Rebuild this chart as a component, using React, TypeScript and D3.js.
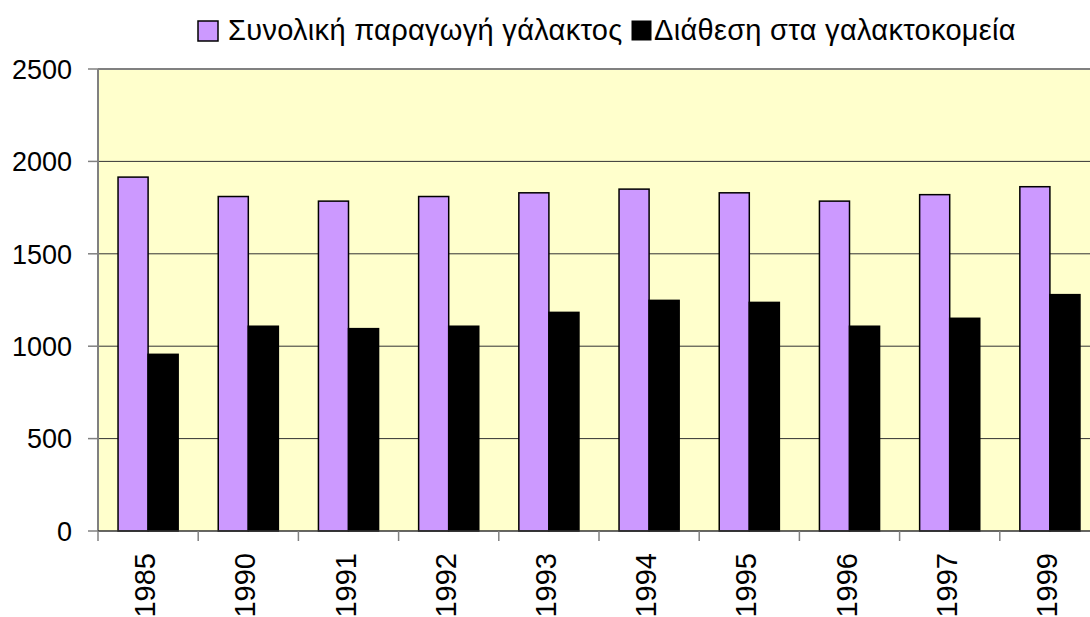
import React from 'react'
import * as d3 from 'd3'

// milk production (thousand tonnes)
const years = ['1985', '1990', '1991', '1992', '1993', '1994', '1995', '1996', '1997', '1999']
const totalProduction = [1915, 1810, 1785, 1810, 1830, 1850, 1830, 1785, 1820, 1863]
const toDairies = [956, 1108, 1095, 1108, 1183, 1248, 1237, 1108, 1151, 1279]
const seriesNames = ['Συνολική παραγωγή γάλακτος', 'Διάθεση στα γαλακτοκομεία']
const seriesColors = ['#CC99FF', '#000000']
const yTicks = [0, 500, 1000, 1500, 2000, 2500]

const W = 1090, H = 617
const left = 98, top = 69, plotW = 1002, plotH = 462
const font = 'Liberation Sans, Arial, sans-serif'

export default function App() {
  const x = d3.scaleBand<string>()
    .domain(years)
    .range([left, left + plotW])
    .paddingInner(0.4)
    .paddingOuter(0.2)

  const xInner = d3.scaleBand<number>()
    .domain([0, 1])
    .range([0, x.bandwidth()])

  const y = d3.scaleLinear()
    .domain([0, 2500])
    .range([top + plotH, top])

  const gap = (x.step() - x.bandwidth()) / 2
  const data = [totalProduction, toDairies]

  return (
    <div style={{ position: 'absolute', left: 0, top: 0 }}>
      <svg width={W} height={H} style={{ display: 'block', background: '#fff' }}>
        <rect x={left} y={top} width={plotW} height={plotH} fill="#FFFFCC" />

        {yTicks.filter(t => t > 0 && t < 2500).map(t => (
          <line key={t} x1={left} x2={left + plotW} y1={y(t)} y2={y(t)} stroke="#333" strokeWidth={1} />
        ))}
        <line x1={left} x2={left + plotW} y1={y(2500)} y2={y(2500)} stroke="#808080" strokeWidth={2} />

        {data.map((vals, s) => (
          <g key={s} fill={seriesColors[s]} stroke="#000" strokeWidth={1.5}>
            {years.map((yr, i) => (
              <rect key={yr}
                x={x(yr)! + xInner(s)!}
                y={y(vals[i])}
                width={xInner.bandwidth()}
                height={y(0) - y(vals[i])} />
            ))}
          </g>
        ))}

        {/* y axis */}
        <line x1={left} x2={left} y1={top} y2={top + plotH} stroke="#808080" strokeWidth={2} />
        {yTicks.map(t => (
          <g key={t}>
            <line x1={left - 10} x2={left} y1={y(t)} y2={y(t)} stroke="#808080" strokeWidth={1.5} />
            <text x={72} y={y(t)} dy="0.36em" textAnchor="end" fontFamily={font} fontSize={27} fill="#000">{t}</text>
          </g>
        ))}

        {/* x axis */}
        <line x1={left} x2={left + plotW} y1={y(0)} y2={y(0)} stroke="#333" strokeWidth={1.5} />
        {years.map(yr => (
          <line key={'t' + yr} x1={x(yr)! - gap} x2={x(yr)! - gap} y1={y(0)} y2={y(0) + 10} stroke="#808080" strokeWidth={1.5} />
        ))}
        {years.map(yr => {
          const cx = x(yr)! + x.bandwidth() / 2 + 7
          return (
            <text key={'l' + yr} transform={`translate(${cx},553) rotate(-90)`}
              textAnchor="end" fontFamily={font} fontSize={29} fill="#000">{yr}</text>
          )
        })}

        {/* legend */}
        <rect x={198} y={21} width={20} height={20} fill={seriesColors[0]} stroke="#000" strokeWidth={1.5} />
        <text x={228} y={40} fontFamily={font} fontSize={29} letterSpacing={0.3} fill="#000">{seriesNames[0]}</text>
        <rect x={632} y={21} width={19} height={19} fill={seriesColors[1]} stroke="#000" strokeWidth={1} />
        <text x={654} y={40} fontFamily={font} fontSize={29} letterSpacing={0.3} fill="#000">{seriesNames[1]}</text>
      </svg>
    </div>
  )
}
